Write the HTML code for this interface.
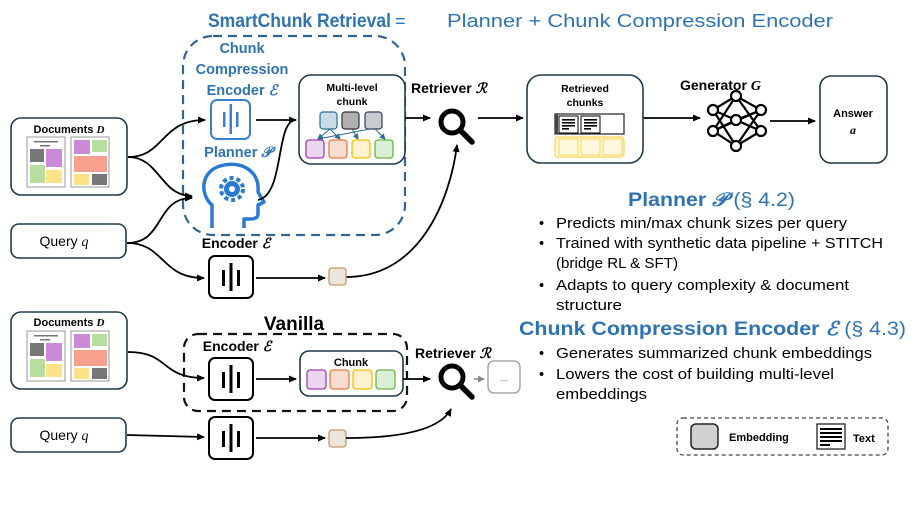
<!DOCTYPE html>
<html><head><meta charset="utf-8"><style>
html,body{margin:0;padding:0;background:#fff;}
svg{display:block;font-family:"Liberation Sans",sans-serif;}
</style></head><body>
<svg width="913" height="514" viewBox="0 0 913 514" xmlns="http://www.w3.org/2000/svg">
<defs>
<marker id="ah" markerWidth="8" markerHeight="8" refX="7" refY="4" orient="auto" markerUnits="userSpaceOnUse"><path d="M0,0.5 L8,4 L0,7.5 z" fill="#000"/></marker>
<marker id="ahb" markerWidth="6" markerHeight="6" refX="5" refY="3" orient="auto" markerUnits="userSpaceOnUse"><path d="M0,0 L6,3 L0,6 z" fill="#2a6f8f"/></marker>
<marker id="ahg" markerWidth="7" markerHeight="7" refX="6" refY="3.5" orient="auto" markerUnits="userSpaceOnUse"><path d="M0,0 L7,3.5 L0,7 z" fill="#888"/></marker>
<g id="doc">
 <rect x="0" y="0" width="38" height="50" fill="#fff" stroke="#999"/>
 <rect x="7" y="4" width="24" height="1.5" fill="#777"/><rect x="13" y="8" width="10" height="1.5" fill="#777"/>
 <rect x="3" y="12" width="14" height="13" fill="#555" opacity=".8"/>
 <rect x="19" y="12" width="16" height="18" fill="#c98ad8"/>
 <rect x="3" y="28" width="15" height="18" fill="#b9dc9f"/>
 <rect x="19" y="33" width="16" height="13" fill="#fde28a"/>
 <rect x="44" y="0" width="38" height="50" fill="#fff" stroke="#999"/>
 <rect x="47" y="3" width="16" height="14" fill="#c98ad8"/>
 <rect x="65" y="3" width="15" height="12" fill="#b9dc9f"/>
 <rect x="47" y="19" width="33" height="16" fill="#f7a08e"/>
 <rect x="47" y="37" width="15" height="11" fill="#fde28a"/>
 <rect x="65" y="37" width="15" height="11" fill="#555" opacity=".8"/>
</g>
<g id="mag"><circle cx="16" cy="16" r="11" fill="none" stroke="#000" stroke-width="5"/><line x1="24" y1="24" x2="36" y2="36" stroke="#000" stroke-width="5.5" stroke-linecap="round"/></g>
<g id="enc"><rect x="0" y="0" width="44" height="42" rx="6" fill="#fff" stroke="#000" stroke-width="2"/><rect x="13" y="14" width="3" height="16" fill="#000"/><rect x="20.5" y="7" width="3" height="28" fill="#000"/><rect x="28" y="14" width="3" height="16" fill="#000"/></g>
<g id="txt"><rect x="0" y="0" width="19" height="17" fill="#fff" stroke="#000"/><rect x="3" y="3" width="13" height="1.6" fill="#000"/><rect x="3" y="6" width="13" height="1.6" fill="#000"/><rect x="3" y="9" width="13" height="1.6" fill="#000"/><rect x="3" y="12" width="7" height="1.6" fill="#000"/></g>
</defs>

<!-- Title -->
<text x="208" y="27" font-size="19" font-weight="bold" fill="#2e74b5" textLength="183" lengthAdjust="spacingAndGlyphs">SmartChunk Retrieval</text>
<text x="395" y="27" font-size="18" fill="#2e74b5">=</text>
<text x="447" y="27" font-size="18" fill="#2e74b5" textLength="386" lengthAdjust="spacingAndGlyphs">Planner + Chunk Compression Encoder</text>

<!-- blue dashed box -->
<rect x="183" y="36" width="222" height="199" rx="30" fill="none" stroke="#2e6496" stroke-width="2.2" stroke-dasharray="9,6"/>
<text x="242" y="53" font-size="14.5" font-weight="bold" fill="#2e74b5" text-anchor="middle">Chunk</text>
<text x="242" y="74" font-size="14.5" font-weight="bold" fill="#2e74b5" text-anchor="middle">Compression</text>
<text x="242" y="95" font-size="14.5" font-weight="bold" fill="#2e74b5" text-anchor="middle">Encoder <tspan font-style="italic" font-family="Liberation Serif">ℰ</tspan></text>
<rect x="211" y="100" width="39" height="39" rx="6" fill="#fff" stroke="#3a7fd0" stroke-width="2"/>
<rect x="223" y="112" width="2.5" height="15" fill="#3a7fd0"/><rect x="229.5" y="104" width="2.5" height="30" fill="#3a7fd0"/><rect x="236" y="112" width="2.5" height="15" fill="#3a7fd0"/>
<text x="238" y="157" font-size="14.5" font-weight="bold" fill="#2e74b5" text-anchor="middle">Planner <tspan font-style="italic" font-family="Liberation Serif">𝒫</tspan></text>
<!-- head -->
<path d="M212,228 L212,205 C200,195 200,172 220,166 C240,160 260,170 258,192 L264,202 L258,205 L258,214 C258,220 250,219 244,219 L244,228" fill="none" stroke="#2a7ad4" stroke-width="3.5" stroke-linejoin="round"/>
<circle cx="232" cy="189" r="8" fill="#2a7ad4"/>
<circle cx="232" cy="189" r="11" fill="none" stroke="#2a7ad4" stroke-width="4" stroke-dasharray="4,3"/>
<circle cx="232" cy="189" r="3" fill="#fff"/>

<!-- Documents top -->
<rect x="11" y="118" width="116" height="77" rx="10" fill="#fff" stroke="#1f3a4a" stroke-width="1.6"/>
<text x="69" y="133" font-size="11" font-weight="bold" text-anchor="middle">Documents <tspan font-style="italic" font-family="Liberation Serif">D</tspan></text>
<use href="#doc" x="27" y="137"/>
<!-- Query top -->
<rect x="11" y="224" width="115" height="34" rx="8" fill="#fff" stroke="#1f3a4a" stroke-width="1.6"/>
<text x="64" y="246" font-size="14" text-anchor="middle">Query <tspan font-style="italic" font-family="Liberation Serif">q</tspan></text>

<!-- connectors top -->
<g fill="none" stroke="#000" stroke-width="1.8">
<path d="M128,157 C165,157 160,120 205,120" marker-end="url(#ah)"/>
<path d="M128,157 C160,157 160,196 192,196" marker-end="url(#ah)"/>
<path d="M127,243 C165,243 155,198 192,198" marker-end="url(#ah)"/>
<path d="M127,243 C165,243 160,278 204,278" marker-end="url(#ah)"/>
<path d="M256,120 L296,120" />
<path d="M258,200 C285,195 275,120 296,120" marker-end="url(#ah)"/>
<path d="M405,118 L430,118" marker-end="url(#ah)"/>
<path d="M256,278 L325,278" marker-end="url(#ah)"/>
<path d="M346,277 C420,277 450,200 457,145" marker-end="url(#ah)"/>
<path d="M478,118 L523,118" marker-end="url(#ah)"/>
<path d="M643,118 L700,118" marker-end="url(#ah)"/>
<path d="M770,121 L815,121" marker-end="url(#ah)"/>
</g>

<!-- multi-level chunk -->
<rect x="299" y="75" width="106" height="89" rx="12" fill="#fff" stroke="#1f3a4a" stroke-width="1.6"/>
<text x="352" y="91" font-size="10.5" font-weight="bold" text-anchor="middle">Multi-level</text>
<text x="352" y="105" font-size="10.5" font-weight="bold" text-anchor="middle">chunk</text>
<rect x="320" y="112" width="17" height="17" rx="3" fill="#c9dbe5" stroke="#2a6f8f" stroke-width="1.2"/>
<rect x="342" y="112" width="17" height="17" rx="3" fill="#b0b0b0" stroke="#333" stroke-width="1.2"/>
<rect x="365" y="112" width="17" height="17" rx="3" fill="#c8ccd0" stroke="#2a3f5a" stroke-width="1.2"/>
<g stroke="#2a6f8f" stroke-width="1" fill="none">
<path d="M330,129 L318,139" marker-end="url(#ahb)"/><path d="M330,129 L340,139" marker-end="url(#ahb)"/>
<path d="M370,129 L318,139" marker-end="url(#ahb)"/><path d="M352,129 L358,139" marker-end="url(#ahb)"/><path d="M375,129 L385,139" marker-end="url(#ahb)"/>
</g>
<rect x="306" y="140" width="18" height="18" rx="3" fill="#ead6ee" stroke="#a43eb0" stroke-width="1.3"/>
<rect x="329" y="140" width="18" height="18" rx="3" fill="#fbdcd0" stroke="#ec7a3e" stroke-width="1.3"/>
<rect x="352" y="140" width="18" height="18" rx="3" fill="#fff2cc" stroke="#f5c000" stroke-width="1.3"/>
<rect x="375" y="140" width="18" height="18" rx="3" fill="#dbefd6" stroke="#6bb24a" stroke-width="1.3"/>

<!-- Retriever top -->
<text x="411" y="93" font-size="14" font-weight="bold">Retriever <tspan font-style="italic" font-family="Liberation Serif">ℛ</tspan></text>
<use href="#mag" x="436" y="106"/>

<!-- Encoder black top -->
<text x="236" y="248" font-size="14" font-weight="bold" text-anchor="middle">Encoder <tspan font-style="italic" font-family="Liberation Serif">ℰ</tspan></text>
<use href="#enc" x="209" y="256"/>
<rect x="329" y="268" width="17" height="17" rx="3" fill="#ede4da" stroke="#c49a6c" stroke-width="1.3"/>

<!-- Retrieved chunks -->
<rect x="527" y="75" width="116" height="88" rx="14" fill="#fff" stroke="#1f3a4a" stroke-width="1.6"/>
<text x="585" y="92" font-size="10.5" font-weight="bold" text-anchor="middle">Retrieved</text>
<text x="585" y="106" font-size="10.5" font-weight="bold" text-anchor="middle">chunks</text>
<rect x="555" y="114" width="69" height="20" fill="#fff" stroke="#333" stroke-width="1.3"/>
<rect x="555" y="114" width="3" height="20" fill="#444"/>
<use href="#txt" x="559" y="116"/><use href="#txt" x="581" y="116"/>
<rect x="555" y="137" width="69" height="20" rx="3" fill="#fff8dc" stroke="#f5d45a" stroke-width="1.2"/>
<g opacity=".6"><rect x="559" y="139" width="19" height="16" fill="none" stroke="#f0c000"/><rect x="581" y="139" width="19" height="16" fill="none" stroke="#f0c000"/><rect x="603" y="139" width="19" height="16" fill="none" stroke="#f0c000"/></g>

<!-- Generator -->
<text x="680" y="90" font-size="14" font-weight="bold">Generator <tspan font-style="italic" font-family="Liberation Serif">G</tspan></text>
<g stroke="#000" stroke-width="2.2" fill="#fff">
<g fill="none">
<path d="M736,96 L713,110 L736,120 L713,131 L736,146 M736,96 L761,110 L736,120 L761,131 L736,146 M713,110 L736,146 M713,131 L736,96 M761,110 L736,146 M761,131 L736,96 M713,110 L761,131 M713,131 L761,110"/>
</g>
<circle cx="736" cy="96" r="5"/><circle cx="713" cy="110" r="5"/><circle cx="761" cy="110" r="5"/><circle cx="736" cy="120" r="5"/><circle cx="713" cy="131" r="5"/><circle cx="761" cy="131" r="5"/><circle cx="736" cy="146" r="5"/>
</g>

<!-- Answer -->
<rect x="820" y="76" width="67" height="87" rx="11" fill="#fff" stroke="#1f3a4a" stroke-width="1.6"/>
<text x="853" y="117" font-size="11" font-weight="bold" text-anchor="middle">Answer</text>
<text x="853" y="134" font-size="12" font-style="italic" font-weight="bold" font-family="Liberation Serif" text-anchor="middle">a</text>

<!-- Right text -->
<text x="628" y="206" font-size="19" fill="#2e74b5" textLength="167" lengthAdjust="spacingAndGlyphs"><tspan font-weight="bold">Planner <tspan font-style="italic" font-family="Liberation Serif">𝒫</tspan></tspan> (§ 4.2)</text>
<g font-size="14.5" fill="#000">
<text x="539" y="228">•</text><text x="556" y="228" textLength="291" lengthAdjust="spacingAndGlyphs">Predicts min/max chunk sizes per query</text>
<text x="539" y="248">•</text><text x="556" y="248" textLength="327" lengthAdjust="spacingAndGlyphs">Trained with synthetic data pipeline + STITCH</text>
<text x="556" y="268" textLength="122" lengthAdjust="spacingAndGlyphs">(bridge RL &amp; SFT)</text>
<text x="539" y="290">•</text><text x="556" y="290" textLength="293" lengthAdjust="spacingAndGlyphs">Adapts to query complexity &amp; document</text>
<text x="556" y="310" textLength="66" lengthAdjust="spacingAndGlyphs">structure</text>
</g>
<text x="519" y="335" font-size="19" fill="#2e74b5" textLength="387" lengthAdjust="spacingAndGlyphs"><tspan font-weight="bold">Chunk Compression Encoder <tspan font-style="italic" font-family="Liberation Serif">ℰ</tspan></tspan> (§ 4.3)</text>
<g font-size="14.5" fill="#000">
<text x="539" y="358">•</text><text x="556" y="358" textLength="316" lengthAdjust="spacingAndGlyphs">Generates summarized chunk embeddings</text>
<text x="539" y="379">•</text><text x="556" y="379" textLength="278" lengthAdjust="spacingAndGlyphs">Lowers the cost of building multi-level</text>
<text x="556" y="399" textLength="91" lengthAdjust="spacingAndGlyphs">embeddings</text>
</g>

<!-- legend -->
<rect x="677" y="418" width="211" height="37" rx="6" fill="none" stroke="#444" stroke-width="1.3" stroke-dasharray="4,3"/>
<rect x="691" y="424" width="27" height="25" rx="5" fill="#d0d0d0" stroke="#222" stroke-width="1.5"/>
<text x="729" y="441" font-size="11" font-weight="bold">Embedding</text>
<rect x="817" y="424" width="28" height="25" fill="#fff" stroke="#222" stroke-width="1.3"/>
<g fill="#000"><rect x="820" y="428" width="22" height="2"/><rect x="820" y="432" width="22" height="2"/><rect x="820" y="436" width="22" height="2"/><rect x="820" y="440" width="22" height="2"/><rect x="820" y="444" width="10" height="2"/></g>
<text x="853" y="442" font-size="11" font-weight="bold">Text</text>

<!-- Vanilla -->
<text x="294" y="330" font-size="19" font-weight="bold" text-anchor="middle">Vanilla</text>
<rect x="184" y="334" width="223" height="77" rx="14" fill="none" stroke="#111" stroke-width="2.2" stroke-dasharray="9,6"/>
<rect x="11" y="312" width="116" height="77" rx="10" fill="#fff" stroke="#1f3a4a" stroke-width="1.6"/>
<text x="69" y="326" font-size="11" font-weight="bold" text-anchor="middle">Documents <tspan font-style="italic" font-family="Liberation Serif">D</tspan></text>
<use href="#doc" x="27" y="331"/>
<rect x="11" y="418" width="115" height="34" rx="8" fill="#fff" stroke="#1f3a4a" stroke-width="1.6"/>
<text x="64" y="440" font-size="14" text-anchor="middle">Query <tspan font-style="italic" font-family="Liberation Serif">q</tspan></text>
<text x="237" y="351" font-size="14" font-weight="bold" text-anchor="middle">Encoder <tspan font-style="italic" font-family="Liberation Serif">ℰ</tspan></text>
<use href="#enc" x="209" y="358"/>
<use href="#enc" x="209" y="417"/>
<rect x="300" y="351" width="103" height="45" rx="9" fill="#fff" stroke="#1f3a4a" stroke-width="1.6"/>
<text x="351" y="366" font-size="11" font-weight="bold" text-anchor="middle">Chunk</text>
<rect x="307" y="370" width="19" height="19" rx="3" fill="#ead6ee" stroke="#a43eb0" stroke-width="1.3"/>
<rect x="330" y="370" width="19" height="19" rx="3" fill="#fbdcd0" stroke="#ec7a3e" stroke-width="1.3"/>
<rect x="353" y="370" width="19" height="19" rx="3" fill="#fff2cc" stroke="#f5c000" stroke-width="1.3"/>
<rect x="376" y="370" width="19" height="19" rx="3" fill="#dbefd6" stroke="#6bb24a" stroke-width="1.3"/>
<rect x="329" y="430" width="17" height="17" rx="3" fill="#ede4da" stroke="#c49a6c" stroke-width="1.3"/>
<text x="415" y="358" font-size="14" font-weight="bold">Retriever <tspan font-style="italic" font-family="Liberation Serif">ℛ</tspan></text>
<use href="#mag" x="436" y="361"/>
<rect x="488" y="361" width="32" height="32" rx="6" fill="#fff" stroke="#999" stroke-width="1.3"/>
<text x="504" y="381" font-size="10" fill="#666" text-anchor="middle">...</text>
<g fill="none" stroke="#000" stroke-width="1.8">
<path d="M128,352 C170,352 160,378 204,378" marker-end="url(#ah)"/>
<path d="M256,379 L296,379" marker-end="url(#ah)"/>
<path d="M403,379 L430,379" marker-end="url(#ah)"/>
<path d="M127,435 L204,437" marker-end="url(#ah)"/>
<path d="M256,438 L325,438" marker-end="url(#ah)"/>
<path d="M346,438 C400,438 440,430 451,409" marker-end="url(#ah)"/>
</g>
<path d="M474,379 L484,379" stroke="#888" stroke-width="1.5" marker-end="url(#ahg)"/>
</svg>
</body></html>
